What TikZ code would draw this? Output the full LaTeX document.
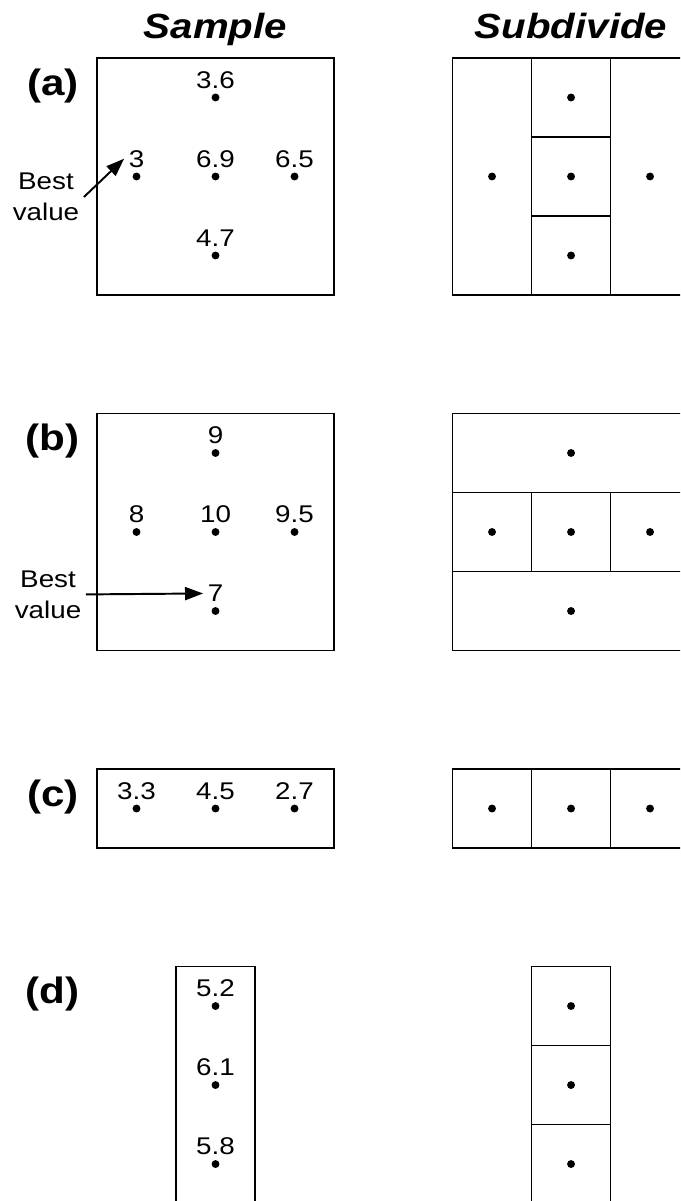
\documentclass[tikz,border=0pt]{standalone}
\usepackage{fontspec}
\setmainfont[FakeStretch=1.15]{Liberation Sans}
\usetikzlibrary{positioning, arrows.meta}

\begin{document}
\begin{tikzpicture}[
    box/.style={line width=0.6pt},
    pt/.style={circle, fill, inner sep=0pt, minimum size=1mm},
    val/.style={inner sep=1.5pt, font=\fontsize{8.7}{10.4}\selectfont},
    tag/.style={anchor=base, font=\fontsize{13.2}{16}\selectfont\bfseries},
    head/.style={anchor=base, font=\fontsize{12.6}{15}\selectfont\bfseries\itshape},
    note/.style={align=center, inner sep=1.5pt, font=\fontsize{8.7}{11.2}\selectfont},
    arr/.style={-{Triangle[length=6.5pt, width=4.7pt]}, line width=0.7pt}]
      \clip (-1.228, 0.734) rectangle (7.38, -14.468);

      % Headings
      \node[head] (S) at (1.5, 0.25) {Sample};
      \node[head] (D) at (6, 0.25) {Subdivide};

      % Row (a)
      \node[tag] (ta) at (-0.56, -0.47) {(a)};
      \draw[box] (0, 0) rectangle (3, -3);
      \node[pt] (sA1) at (1.5, -0.5) {};
      \node[pt] (sA2) at (0.5, -1.5) {};
      \node[pt] (sA3) at (1.5, -1.5) {};
      \node[pt] (sA4) at (2.5, -1.5) {};
      \node[pt] (sA5) at (1.5, -2.5) {};
      \node[val, above=0pt of sA1] (vA1) {3.6};
      \node[val, above=0pt of sA2] (vA2) {3};
      \node[val, above=0pt of sA3] (vA3) {6.9};
      \node[val, above=0pt of sA4] (vA4) {6.5};
      \node[val, above=0pt of sA5] (vA5) {4.7};
      \node[note] (bestA) at (-0.646, -1.76) {Best\\value};
      \draw[arr] (bestA.east) -- (vA2.west);
      \draw[box] (4.5, 0) rectangle (7.5, -3);
      \draw[box] (5.5, 0) -- (5.5, -3) (6.5, 0) -- (6.5, -3);
      \draw[box] (5.5, -1) -- (6.5, -1) (5.5, -2) -- (6.5, -2);
      \node[pt] (dA1) at (5, -1.5) {};
      \node[pt] (dA2) at (6, -0.5) {};
      \node[pt] (dA3) at (6, -1.5) {};
      \node[pt] (dA4) at (6, -2.5) {};
      \node[pt] (dA5) at (7, -1.5) {};

      % Row (b)
      \node[tag] (tb) at (-0.56, -4.97) {(b)};
      \draw[box] (0, -4.5) rectangle (3, -7.5);
      \node[pt] (sB1) at (1.5, -5) {};
      \node[pt] (sB2) at (0.5, -6) {};
      \node[pt] (sB3) at (1.5, -6) {};
      \node[pt] (sB4) at (2.5, -6) {};
      \node[pt] (sB5) at (1.5, -7) {};
      \node[val, above=0pt of sB1] (vB1) {9};
      \node[val, above=0pt of sB2] (vB2) {8};
      \node[val, above=0pt of sB3] (vB3) {10};
      \node[val, above=0pt of sB4] (vB4) {9.5};
      \node[val, above=0pt of sB5] (vB5) {7};
      \node[note] (bestB) at (-0.62, -6.79) {Best\\value};
      \draw[arr] (bestB.east) -- (vB5.west);
      \draw[box] (4.5, -4.5) rectangle (7.5, -7.5);
      \draw[box] (4.5, -5.5) -- (7.5, -5.5) (4.5, -6.5) -- (7.5, -6.5);
      \draw[box] (5.5, -5.5) -- (5.5, -6.5) (6.5, -5.5) -- (6.5, -6.5);
      \node[pt] (dB1) at (6, -5) {};
      \node[pt] (dB2) at (5, -6) {};
      \node[pt] (dB3) at (6, -6) {};
      \node[pt] (dB4) at (7, -6) {};
      \node[pt] (dB5) at (6, -7) {};

      % Row (c)
      \node[tag] (tc) at (-0.56, -9.47) {(c)};
      \draw[box] (0, -9) rectangle (3, -10);
      \node[pt] (sC1) at (0.5, -9.5) {};
      \node[pt] (sC2) at (1.5, -9.5) {};
      \node[pt] (sC3) at (2.5, -9.5) {};
      \node[val, above=0pt of sC1] (vC1) {3.3};
      \node[val, above=0pt of sC2] (vC2) {4.5};
      \node[val, above=0pt of sC3] (vC3) {2.7};
      \draw[box] (4.5, -9) rectangle (7.5, -10);
      \draw[box] (5.5, -9) -- (5.5, -10) (6.5, -9) -- (6.5, -10);
      \node[pt] (dC1) at (5, -9.5) {};
      \node[pt] (dC2) at (6, -9.5) {};
      \node[pt] (dC3) at (7, -9.5) {};

      % Row (d)
      \node[tag] (td) at (-0.56, -11.97) {(d)};
      \draw[box] (1, -11.5) rectangle (2, -14.5);
      \node[pt] (sD1) at (1.5, -12) {};
      \node[pt] (sD2) at (1.5, -13) {};
      \node[pt] (sD3) at (1.5, -14) {};
      \node[val, above=0pt of sD1] (vD1) {5.2};
      \node[val, above=0pt of sD2] (vD2) {6.1};
      \node[val, above=0pt of sD3] (vD3) {5.8};
      \draw[box] (5.5, -11.5) rectangle (6.5, -14.5);
      \draw[box] (5.5, -12.5) -- (6.5, -12.5) (5.5, -13.5) -- (6.5, -13.5);
      \node[pt] (dD1) at (6, -12) {};
      \node[pt] (dD2) at (6, -13) {};
      \node[pt] (dD3) at (6, -14) {};

    \end{tikzpicture}
\end{document}
